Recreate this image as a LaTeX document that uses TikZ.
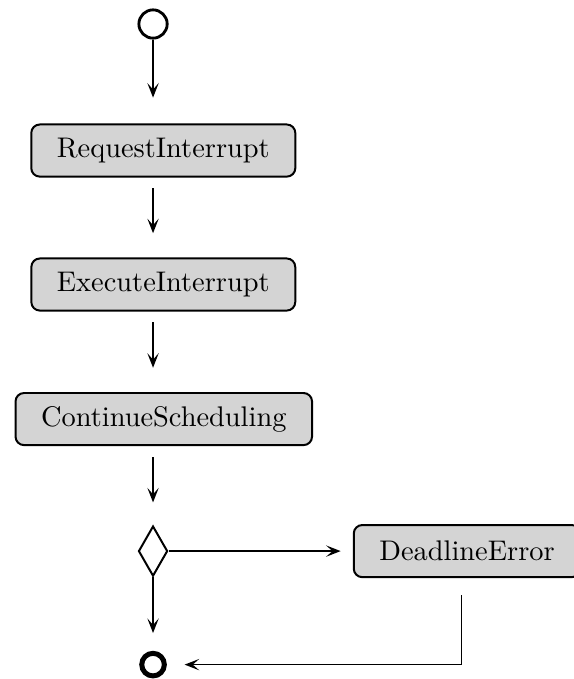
\documentclass[tikz,border=0pt]{standalone}
\usepackage{amsmath}
\usetikzlibrary{arrows, arrows.meta}
\usetikzlibrary{calc}
\usetikzlibrary{shapes.geometric}

\tikzset{
  activity/.style={rectangle, rounded corners=3pt, draw, line width=0.7pt, fill=black!17, inner xsep=9pt, minimum height=0.645cm},
  flow/.style={-{Stealth[length=1.8mm, width=1.4mm, inset=0.8mm]}, semithick},
}

\begin{document}
\begin{tikzpicture}
    \useasboundingbox (-1.894,0) rectangle (5.198,-8.403);

    \node[circle, draw, line width=1pt, inner sep=0pt, minimum size=0.35cm] (start) at (0,-0.297) {};
    \node[activity] (request) at (0.127,-1.863) {RequestInterrupt};
    \node[activity] (execute) at (0.127,-3.521) {ExecuteInterrupt};
    \node[activity] (continue) at (0.133,-5.186) {ContinueScheduling};
    \node[diamond, draw, line width=0.7pt, inner sep=0pt, minimum width=0.36cm, minimum height=0.62cm] (check) at (0,-6.82) {};
    \node[activity] (deadline) at (3.886,-6.82) {DeadlineError};
    \node[circle, draw, line width=1.76pt, inner sep=0pt, minimum size=0.28cm] (end) at (0,-8.225) {};

    \draw[flow, shorten >=0.32cm] (start) -- (start |- request.north);
    \draw[flow, shorten <=0.13cm, shorten >=0.3cm] (start |- request.south) -- (start |- execute.north);
    \draw[flow, shorten <=0.13cm, shorten >=0.3cm] (start |- execute.south) -- (start |- continue.north);
    \draw[flow, shorten <=0.14cm, shorten >=0.28cm] (start |- continue.south) -- (check);
    \draw[flow, shorten >=0.15cm] (check) -- (deadline);
    \draw[flow, shorten >=0.22cm] (check) -- (end);
    \draw[flow, shorten <=0.21cm, shorten >=0.22cm] ([xshift=-2pt]deadline.south) |- (end);
  \end{tikzpicture}
\end{document}
